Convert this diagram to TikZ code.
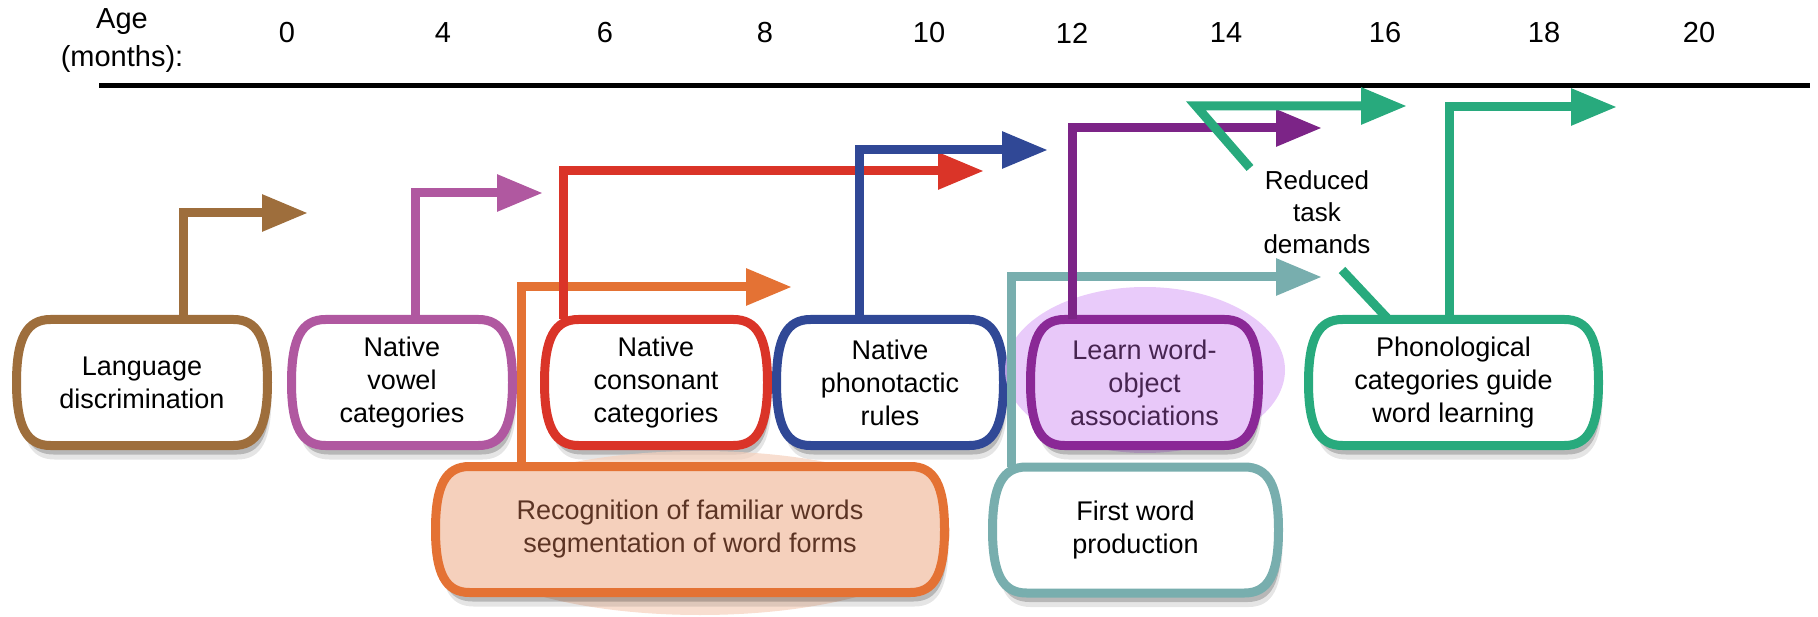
\documentclass[tikz,border=0pt]{standalone}
\usepackage{fontspec}
\setmainfont{Liberation Sans}
\usetikzlibrary{arrows.meta,backgrounds}

\definecolor{langbrown}{RGB}{158,110,60}
\definecolor{vowelpink}{RGB}{176,88,160}
\definecolor{consred}{RGB}{218,52,40}
\definecolor{phonoblue}{RGB}{48,72,150}
\definecolor{recogorange}{RGB}{228,114,52}
\definecolor{recogfill}{RGB}{245,208,188}
\definecolor{recogtext}{RGB}{92,52,36}
\definecolor{learnpurple}{RGB}{138,40,150}
\definecolor{learntext}{RGB}{70,36,80}
\definecolor{learnhalo}{RGB}{226,186,248}
\definecolor{firstteal}{RGB}{120,174,174}
\definecolor{guidegreen}{RGB}{40,170,125}

% outline of a stage box: node, x offset, y offset
\newcommand\stageoutline[3]{%
  ([shift={(#2+34,#3)}]#1.north west) -- ([shift={(#2-34,#3)}]#1.north east)
  .. controls ([shift={(#2-10,#3)}]#1.north east) and ([shift={(#2,#3-44)}]#1.east) .. ([shift={(#2,#3)}]#1.east)
  .. controls ([shift={(#2,#3+44)}]#1.east) and ([shift={(#2-10,#3)}]#1.south east) .. ([shift={(#2-34,#3)}]#1.south east)
  -- ([shift={(#2+34,#3)}]#1.south west)
  .. controls ([shift={(#2+10,#3)}]#1.south west) and ([shift={(#2,#3+44)}]#1.west) .. ([shift={(#2,#3)}]#1.west)
  .. controls ([shift={(#2,#3-44)}]#1.west) and ([shift={(#2+10,#3)}]#1.north west) .. ([shift={(#2+34,#3)}]#1.north west)
  -- cycle}
% box with shadow: node, border colour, fill colour
\newcommand\stagebox[3]{%
  \fill[black, opacity=.10] \stageoutline{#1}{4}{14};
  \fill[black, opacity=.20] \stageoutline{#1}{3}{9};
  \filldraw[line width=9pt, draw=#2, fill=#3] \stageoutline{#1}{0}{0};}

\tikzset{
  stage/.style={align=center, inner sep=0pt, outer sep=0pt, minimum height=126pt,
    font=\fontsize{27}{33}\selectfont},
  growth/.style={line width=9pt, line join=miter,
    -{Triangle[length=46pt,width=35pt]}},
  ageno/.style={font=\fontsize{29}{38}\selectfont}
}

\begin{document}
\begin{tikzpicture}[x=1pt,y=-1pt]
  \useasboundingbox (0,0) rectangle (1818,617);

  % time axis
  \node[ageno, align=center] (agelbl) at (122,41) {Age\\(months):};
  \foreach \m/\x in {0/287,4/443,6/605,8/765,10/929,12/1072,14/1226,16/1385,18/1544,20/1699}
    \node[ageno] (m\m) at (\x,33) {\m};
  \coordinate (axisl) at (99,86);
  \coordinate (axisr) at (1810,86);
  \draw[line width=5pt] (axisl) -- (axisr);

  % stages, top row
  \node[stage, minimum width=251pt] (lang) at (142,382.5) {Language\\discrimination};
  \node[stage, minimum width=221pt] (vowel) at (402,382.5) {Native\\vowel\\categories};
  \node[stage, minimum width=223pt] (cons) at (656,382.5) {Native\\consonant\\categories};
  \node[stage, minimum width=227pt] (phono) at (890,382.5) {Native\\phonotactic\\rules};
  \node[stage, minimum width=228pt, text=learntext] (learn) at (1144.5,382.5) {Learn word-\\object\\associations};
  \node[stage, minimum width=290pt] (phon) at (1453.5,382.5) {Phonological\\categories guide\\word learning};

  % stages, bottom row
  \node[stage, minimum width=509pt, text=recogtext] (recog) at (690,529.5) {Recognition of familiar words\\segmentation of word forms};
  \node[stage, minimum width=286pt] (first) at (1135.5,530) {First word\\production};

  \begin{scope}[on background layer]
    \stagebox{lang}{langbrown}{white}
    \stagebox{vowel}{vowelpink}{white}
    \stagebox{cons}{consred}{white}
    \stagebox{phono}{phonoblue}{white}
    \stagebox{phon}{guidegreen}{white}
    \fill[learnhalo, opacity=0.75] (1145,370) ellipse (140 and 83);
    \stagebox{learn}{learnpurple}{learnhalo!80!white}
    \fill[recogfill, opacity=0.7] (700,533) ellipse (250 and 82);
    \stagebox{recog}{recogorange}{recogfill}
    \stagebox{first}{firstteal}{white}
  \end{scope}

  % arrow ends
  \coordinate (langtip) at (308,213);
  \coordinate (voweltip) at (543,193);
  \coordinate (constip) at (984,171);
  \coordinate (phonotip) at (1048,150);
  \coordinate (recogtip) at (792,287);
  \coordinate (learntip) at (1322,128);
  \coordinate (firsttip) at (1322,277);
  \coordinate (phontip) at (1617,107);

  \draw[growth, recogorange] ([xshift=-169pt]recog.north) |- (recogtip);
  \draw[growth, firstteal] ([xshift=-124.5pt]first.north) |- (firsttip);
  \draw[growth, langbrown] ([xshift=41pt]lang.north) |- (langtip);
  \draw[growth, vowelpink] ([xshift=13pt]vowel.north) |- (voweltip);
  \draw[growth, consred] ([xshift=-93pt]cons.north) |- (constip);
  \draw[growth, phonoblue] ([xshift=-31pt]phono.north) |- (phonotip);
  \draw[growth, learnpurple!90!black] ([xshift=-72.5pt]learn.north) |- (learntip);
  \draw[growth, guidegreen] ([xshift=-4pt]phon.north) |- (phontip);

  % reduced task demands
  \node[font=\fontsize{26}{32}\selectfont, align=center] (reduced) at (1317,212) {Reduced\\task\\demands};
  \coordinate (redlo) at (1342,270);
  \coordinate (redhi) at (1250,168);
  \coordinate (redcorner) at (1196,106);
  \coordinate (redtip) at (1407,106);
  \draw[line width=9pt, guidegreen] ([xshift=-65pt]phon.north) -- (redlo);
  \draw[growth, guidegreen] (redhi) -- (redcorner) -- (redtip);
\end{tikzpicture}
\end{document}
